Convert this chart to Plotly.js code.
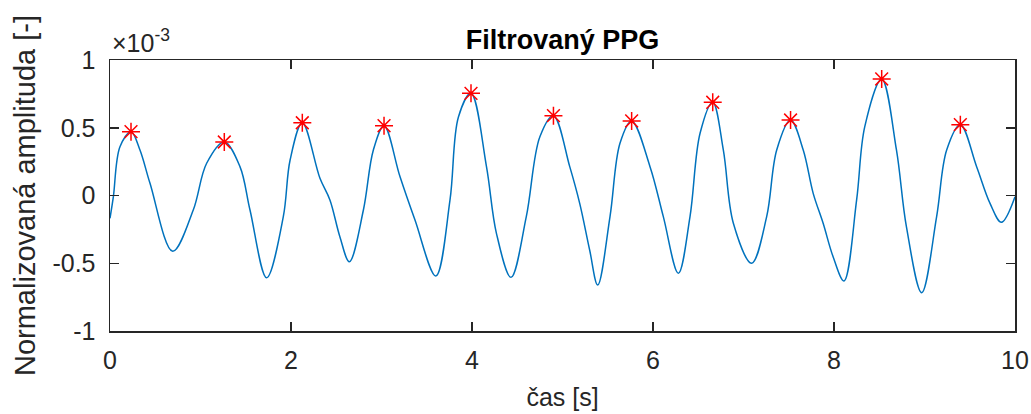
<!DOCTYPE html>
<html><head><meta charset="utf-8">
<script src="https://cdn.plot.ly/plotly-3.0.1.min.js"></script>
<style>html,body{margin:0;padding:0;background:#fff}#chart{width:1031px;height:414px}</style>
</head><body><div id="chart"></div>
<script>
// time [s] and filtered PPG amplitude (in units of 1e-3)
const time_s = [0, 0.037, 0.11, 0.232, 0.331, 0.442, 0.693, 0.92, 1.068, 1.263, 1.436, 1.547, 1.731, 1.915, 1.99, 2.125, 2.32, 2.43, 2.54, 2.645, 2.80, 2.91, 3.028, 3.204, 3.37, 3.6, 3.757, 3.85, 3.989, 4.16, 4.27, 4.431, 4.60, 4.75, 4.9, 5.08, 5.19, 5.30, 5.389, 5.525, 5.635, 5.764, 5.967, 6.114, 6.28, 6.409, 6.52, 6.66, 6.777, 6.888, 7.09, 7.256, 7.367, 7.52, 7.66, 7.77, 7.88, 7.99, 8.11, 8.25, 8.34, 8.527, 8.69, 8.80, 8.969, 9.134, 9.245, 9.396, 9.576, 9.724, 9.85, 10];
const amplitude_e3 = [-0.168, -0.01, 0.36, 0.471, 0.336, 0.09, -0.412, -0.107, 0.238, 0.395, 0.213, -0.107, -0.607, -0.156, 0.262, 0.537, 0.127, -0.033, -0.304, -0.489, -0.107, 0.336, 0.515, 0.14, -0.181, -0.594, -0.033, 0.58, 0.754, 0.213, -0.279, -0.604, -0.156, 0.434, 0.589, 0.213, -0.058, -0.402, -0.661, -0.156, 0.385, 0.55, 0.213, -0.156, -0.574, -0.156, 0.459, 0.688, 0.336, -0.205, -0.5, -0.156, 0.336, 0.557, 0.336, 0.016, -0.205, -0.452, -0.631, -0.033, 0.508, 0.86, 0.336, -0.23, -0.717, -0.156, 0.336, 0.523, 0.213, -0.058, -0.198, -0.01];
// detected peaks
const peak_t = [0.232, 1.263, 2.125, 3.028, 3.989, 4.9, 5.764, 6.66, 7.52, 8.527, 9.396];
const peak_a = [0.471, 0.395, 0.537, 0.515, 0.754, 0.589, 0.55, 0.688, 0.557, 0.86, 0.523];
const xTicks = [0, 2, 4, 6, 8, 10];
const yTicks = [-1, -0.5, 0, 0.5, 1];
const yTickText = ['-1', '-0.5', '0', '0.5', '1'];

const font = 'Liberation Sans, Arial, Helvetica, sans-serif';
const axCol = '#262626';
const common = {showline:true, mirror:'ticks', linecolor:axCol, linewidth:1.5, ticks:'inside', ticklen:9, tickwidth:1.5, tickcolor:axCol, showgrid:false, zeroline:false, tickfont:{family:font, size:25, color:axCol}};

Plotly.newPlot('chart', [
  {x: time_s, y: amplitude_e3, type:'scatter', mode:'lines', line:{color:'#0072BD', width:1.5, shape:'spline', smoothing:1}, hoverinfo:'skip'},
  {x: peak_t, y: peak_a, type:'scatter', mode:'markers', marker:{symbol:'asterisk-open', size:15, color:'#FF0000', line:{color:'#FF0000', width:1.5}}}
], {
  width:1031, height:414,
  margin:{l:110, r:16, t:60, b:83},
  paper_bgcolor:'#fff', plot_bgcolor:'#fff', showlegend:false,
  title:{text:'<b>Filtrovaný PPG</b>', font:{family:font, size:27, color:'#000'}, x:0.5, xref:'paper', xanchor:'center', y:1, yref:'paper', yanchor:'bottom', pad:{b:11}},
  xaxis:Object.assign({}, common, {range:[0,10], tickvals:xTicks, ticklabelstandoff:6, title:{text:'čas [s]', font:{family:font, size:25, color:axCol}, standoff:16}}),
  yaxis:Object.assign({}, common, {range:[-1,1], tickvals:yTicks, ticktext:yTickText, ticklabelstandoff:8, title:{text:'Normalizovaná amplituda [-]', font:{family:font, size:29, color:axCol}, standoff:8}}),
  annotations:[{text:'×10<sup>-3</sup>', xref:'paper', yref:'paper', x:0, y:1, xanchor:'left', yanchor:'bottom', showarrow:false, font:{family:font, size:25, color:axCol}, yshift:1}]
}, {staticPlot:true});
</script></body></html>
